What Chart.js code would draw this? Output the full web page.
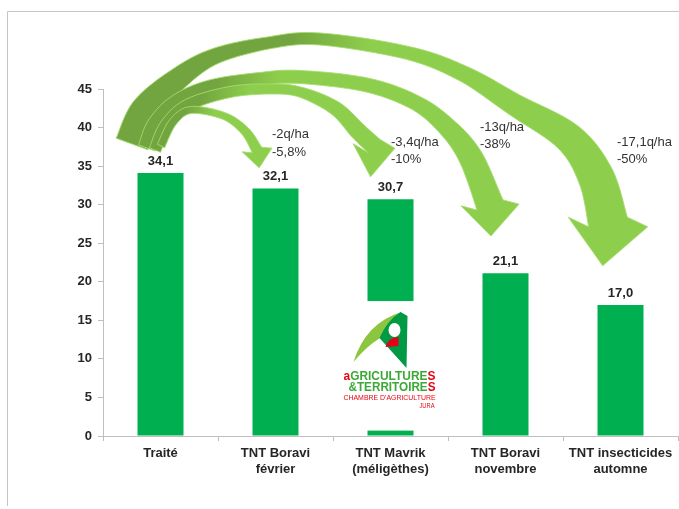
<!DOCTYPE html>
<html><head><meta charset="utf-8">
<script src="https://cdn.jsdelivr.net/npm/chart.js@4/dist/chart.umd.min.js"></script>
<style>html,body{margin:0;padding:0;background:#fff;}canvas{display:block;}</style>
</head><body>
<canvas id="c" width="679" height="509"></canvas>
<script>
// ---- data ----
const categories = [["Traité"], ["TNT Boravi", "février"], ["TNT Mavrik", "(méligèthes)"], ["TNT Boravi", "novembre"], ["TNT insecticides", "automne"]];
const yields = [34.1, 32.1, 30.7, 21.1, 17.0];
const yMin = 0, yMax = 45, yStep = 5;
const lossQuintals = ["", "-2q/ha", "-3,4q/ha", "-13q/ha", "-17,1q/ha"];
const lossPercent = ["", "-5,8%", "-10%", "-38%", "-50%"];
const logoLines = ["aGRICULTURES", "&TERRITOIRES", "CHAMBRE D'AGRICULTURE", "JURA"];

// ---- decoration / style (not data) ----
const FONT = "'Liberation Sans', Arial, sans-serif";
const annotPos = [null, [272, 134, 152], [391, 142, 159], [480, 127, 144], [617, 142, 159]];
const DARK = '#72a43f', LIGHT = '#8ece4d';
const arrows = [
  { // to bar 5
    pts: [[132,144,34],[145,111,30],[174,82,23],[213,57,16],[268,43,12],[320,39,12],[408,53,13],[464,74,16],[515,105,22],[569,138,30],[596,177,36],[608,222,40]],
    dir: [-0.12, 0.99], hw: 40, hl: 44, g: [290, 370]
  },
  { // to bar 4
    pts: [[147,148,18],[156,125,18],[176,103,16],[210,87,14],[260,79,13],[300,77,13],[367,85,14],[416,103,15],[448,128,19],[471,158,24],[490,205,28]],
    dir: [0.03, 1], hw: 29, hl: 31, g: [215, 280]
  },
  { // to bar 3
    pts: [[155,150,12],[166,125,12],[188,105,12],[230,92,11],[270,89,10],[300,92,10],[335,108,14],[358,131,17],[374,146,18]],
    dir: [-0.11, 0.99], hw: 21, hl: 31, g: [200, 250]
  },
  { // to bar 2
    pts: [[161,146,8],[173,122,8],[191,110,7],[224,116,7],[245,131,9],[257,150,11]],
    dir: [0.12, 0.99], hw: 15, hl: 18, g: [185, 215]
  }
];

function catmull(pts, n) {
  const out = [];
  for (let i = 0; i < pts.length - 1; i++) {
    const p0 = pts[Math.max(i-1,0)], p1 = pts[i], p2 = pts[i+1], p3 = pts[Math.min(i+2, pts.length-1)];
    for (let s = 0; s < n; s++) {
      const t = s/n, t2 = t*t, t3 = t2*t;
      const f = (a,b,c,d) => 0.5*((2*b)+(-a+c)*t+(2*a-5*b+4*c-d)*t2+(-a+3*b-3*c+d)*t3);
      out.push({x: f(p0.x,p1.x,p2.x,p3.x), y: f(p0.y,p1.y,p2.y,p3.y), w: p1.w + (p2.w-p1.w)*t});
    }
  }
  out.push(Object.assign({}, pts[pts.length-1]));
  return out;
}
function drawArrow(ctx, a) {
  const s = catmull(a.pts.map(p => ({x:p[0], y:p[1], w:p[2]})), 14);
  const L = [], R = [];
  for (let i = 0; i < s.length; i++) {
    const p0 = s[Math.max(i-1,0)], p1 = s[Math.min(i+1, s.length-1)];
    let tx = p1.x-p0.x, ty = p1.y-p0.y; const len = Math.hypot(tx,ty) || 1; tx/=len; ty/=len;
    const nx = -ty, ny = tx;
    L.push([s[i].x+nx*s[i].w/2, s[i].y+ny*s[i].w/2]);
    R.push([s[i].x-nx*s[i].w/2, s[i].y-ny*s[i].w/2]);
  }
  const e = s[s.length-1];
  let dx = a.dir[0], dy = a.dir[1]; const dl = Math.hypot(dx,dy); dx/=dl; dy/=dl;
  const px = -dy, py = dx;
  ctx.beginPath();
  ctx.moveTo(L[0][0], L[0][1]);
  for (const q of L) ctx.lineTo(q[0], q[1]);
  ctx.lineTo(e.x+px*a.hw, e.y+py*a.hw);
  ctx.lineTo(e.x+dx*a.hl, e.y+dy*a.hl);
  ctx.lineTo(e.x-px*a.hw, e.y-py*a.hw);
  for (let i = R.length-1; i >= 0; i--) ctx.lineTo(R[i][0], R[i][1]);
  ctx.closePath();
  const gr = ctx.createLinearGradient(a.g[0], 0, a.g[1], 0);
  gr.addColorStop(0, DARK); gr.addColorStop(1, LIGHT);
  ctx.fillStyle = gr; ctx.fill();
  ctx.strokeStyle = 'rgba(165,220,110,0.9)'; ctx.lineWidth = 1; ctx.stroke();
}
function drawRuns(ctx, runs, x, y, width, font) {
  ctx.font = font;
  let total = 0; runs.forEach(r => total += ctx.measureText(r[0]).width);
  const k = width/total;
  ctx.save(); ctx.translate(x, y); ctx.scale(k, 1);
  let cx = 0;
  runs.forEach(r => { ctx.fillStyle = r[1]; ctx.fillText(r[0], cx, 0); cx += ctx.measureText(r[0]).width; });
  ctx.restore();
}

const decor = {
  id: 'decor',
  beforeDraw(chart) {
    const ctx = chart.ctx;
    ctx.save();
    ctx.fillStyle = '#fff'; ctx.fillRect(0,0,chart.width,chart.height);
    ctx.strokeStyle = '#c6c6c6'; ctx.lineWidth = 1;
    ctx.beginPath(); ctx.moveTo(7.5, 506); ctx.lineTo(7.5, 11.5); ctx.lineTo(679, 11.5); ctx.stroke();
    ctx.restore();
  },
  afterDatasetsDraw(chart) {
    const ctx = chart.ctx;
    const xs = chart.scales.x, ys = chart.scales.y;
    ctx.save();
    arrows.forEach(a => drawArrow(ctx, a));
    // logo box over the third bar
    const bx = xs.getPixelForValue(2);
    ctx.fillStyle = '#fff';
    ctx.fillRect(bx - 56, ys.getPixelForValue(17.5), 104, ys.getPixelForValue(0.7) - ys.getPixelForValue(17.5));
    // logo graphic
    const ox = bx - 47;
    ctx.fillStyle = '#8cc63f';
    ctx.beginPath();
    ctx.moveTo(ox+10, 362); ctx.quadraticCurveTo(ox+22, 323, ox+58, 312);
    ctx.lineTo(ox+50, 332); ctx.quadraticCurveTo(ox+30, 338, ox+10, 362); ctx.fill();
    ctx.fillStyle = '#009a44';
    ctx.beginPath();
    ctx.moveTo(ox+57, 312); ctx.lineTo(ox+64, 316); ctx.lineTo(ox+63, 368); ctx.lineTo(ox+36, 338);
    ctx.quadraticCurveTo(ox+44, 320, ox+57, 312); ctx.fill();
    ctx.fillStyle = '#fff';
    ctx.beginPath(); ctx.ellipse(ox+51, 330, 6, 7, 0, 0, Math.PI*2); ctx.fill();
    ctx.fillStyle = '#e2001a';
    ctx.beginPath(); ctx.moveTo(ox+42, 347); ctx.quadraticCurveTo(ox+45, 337, ox+55, 337); ctx.lineTo(ox+55, 346); ctx.closePath(); ctx.fill();
    ctx.textBaseline = 'alphabetic';
    const G = '#3aa935', RD = '#e30613';
    const l0 = logoLines[0], l1 = logoLines[1];
    drawRuns(ctx, [[l0[0], RD],[l0.slice(1,-1), G],[l0.slice(-1), RD]], ox+0, 380, 92, "bold 12px 'Liberation Sans Narrow', " + FONT);
    drawRuns(ctx, [[l1.slice(0,-1), G],[l1.slice(-1), RD]], ox+5, 391, 87, "bold 12px 'Liberation Sans Narrow', " + FONT);
    drawRuns(ctx, [[logoLines[2], RD]], ox+0, 400, 92, "8px 'Liberation Sans Narrow', " + FONT);
    drawRuns(ctx, [[logoLines[3], RD]], ox+76, 408, 15, "8px 'Liberation Sans Narrow', " + FONT);
    // value labels
    ctx.fillStyle = '#262626';
    ctx.font = 'bold 13px ' + FONT;
    ctx.textAlign = 'center'; ctx.textBaseline = 'alphabetic';
    const meta = chart.getDatasetMeta(0);
    meta.data.forEach((bar, i) => {
      ctx.fillText(yields[i].toFixed(1).replace('.', ','), bar.x, bar.y - 8);
    });
    // loss annotations
    ctx.font = '13px ' + FONT;
    ctx.textAlign = 'left'; ctx.textBaseline = 'middle';
    ctx.fillStyle = '#333';
    annotPos.forEach((p, i) => {
      if (!p) return;
      ctx.fillText(lossQuintals[i], p[0], p[1]);
      ctx.fillText(lossPercent[i], p[0], p[2]);
    });
    ctx.restore();
  }
};

new Chart(document.getElementById('c'), {
  type: 'bar',
  data: { labels: categories, datasets: [{ data: yields, backgroundColor: '#00b050', barPercentage: 0.4, categoryPercentage: 1 }] },
  options: {
    responsive: false, animation: false, devicePixelRatio: 1,
    layout: { padding: { top: 89, right: 1, left: 0, bottom: 0 } },
    plugins: { legend: { display: false }, tooltip: { enabled: false } },
    scales: {
      x: {
        grid: { offset: true, drawOnChartArea: false, drawTicks: true, tickLength: 5, color: '#bfbfbf' },
        border: { color: '#bfbfbf' },
        ticks: { color: '#262626', font: { family: FONT, size: 13, weight: 'bold', lineHeight: 1.23 }, padding: 4, maxRotation: 0, autoSkip: false },
        afterFit(s) { s.height = 73; }
      },
      y: {
        min: yMin, max: yMax,
        grid: { drawOnChartArea: false, drawTicks: true, tickLength: 5, color: '#bfbfbf' },
        border: { color: '#bfbfbf' },
        ticks: { stepSize: yStep, color: '#262626', font: { family: FONT, size: 13, weight: 'bold' }, padding: 6 },
        afterFit(s) { s.width = 103; }
      }
    }
  },
  plugins: [decor]
});
</script>
</body></html>
